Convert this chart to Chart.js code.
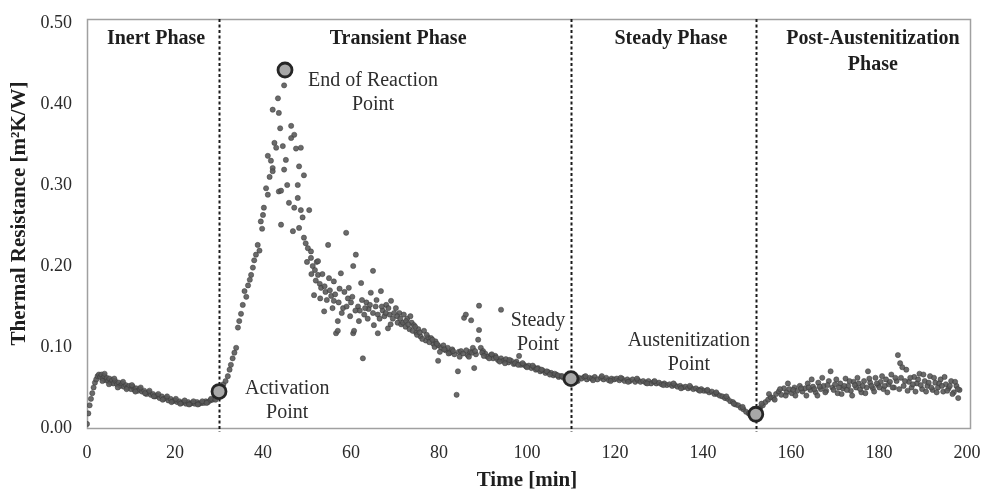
<!DOCTYPE html>
<html>
<head>
<meta charset="utf-8">
<script src="https://cdn.jsdelivr.net/npm/chart.js@4"></script>
<style>
html,body{margin:0;padding:0;background:#fff;}
canvas{display:block;}
</style>
</head>
<body>
<canvas id="c" width="984" height="494"></canvas>
<script>
// ---------- DATA ----------
const xTicks = [0, 20, 40, 60, 80, 100, 120, 140, 160, 180, 200];
const yTicks = [0.00, 0.10, 0.20, 0.30, 0.40, 0.50];

const phaseNames = [['Inert Phase'], ['Transient Phase'], ['Steady Phase'], ['Post-Austenitization', 'Phase']];
const phaseBoundaries = [30, 110, 152];

const keyPointNames = [['Activation', 'Point'], ['End of Reaction', 'Point'], ['Steady', 'Point'], ['Austenitization', 'Point']];
const keyPointTime = [30, 45, 110, 152];
const keyPointR = [0.045, 0.442, 0.061, 0.017];

// Inert phase (0-30 min) [time, resistance]
const inertPoints = [
[0,0.005],[0.3,0.018],[0.6,0.028],[0.9,0.036],[1.2,0.043],[1.5,0.05],[1.8,0.056],[2.1,0.06],[2.4,0.064],[2.7,0.066],
[3.0,0.063],[3.3,0.066],[3.6,0.061],[3.9,0.064],[4.2,0.059],[4.5,0.062],[4.8,0.058],[5.1,0.061],[5.4,0.056],[5.7,0.059],
[6.0,0.055],[6.4,0.058],[6.8,0.054],[7.2,0.056],[7.6,0.052],[8.0,0.055],[8.4,0.051],[8.8,0.053],[9.2,0.05],[9.6,0.052],
[10.0,0.048],[10.4,0.051],[10.8,0.047],[11.2,0.049],[11.6,0.046],[12.0,0.048],[12.5,0.045],[13.0,0.046],[13.5,0.042],[14.0,0.044],
[14.5,0.041],[15.0,0.042],[15.5,0.039],[16.0,0.04],[16.5,0.037],[17.0,0.039],[17.5,0.036],[18.0,0.037],[18.5,0.034],[19.0,0.036],
[19.5,0.033],[20.0,0.034],[20.5,0.032],[21.0,0.033],[21.5,0.031],[22.0,0.032],[22.5,0.03],[23.0,0.032],[23.5,0.03],[24.0,0.031],
[24.5,0.03],[25.0,0.032],[25.5,0.03],[26.0,0.031],[26.5,0.031],[27.0,0.033],[27.5,0.032],[28.0,0.034],[28.5,0.035],[29.0,0.037],
[29.5,0.04],[30.0,0.043],
[3.5,0.058],[4.0,0.067],[5.0,0.054],[6.2,0.061],[7.0,0.05],[8.2,0.057],[9.0,0.048],[10.2,0.053],[11.0,0.045],[12.2,0.05],
[13.2,0.043],[14.2,0.046],[15.2,0.039],[16.2,0.042],[17.2,0.035],[18.2,0.039],[19.2,0.032],[20.2,0.036],[21.2,0.03],[22.2,0.034],
[23.2,0.029],[24.2,0.033],[25.2,0.029],[26.2,0.033],[27.2,0.031],[28.2,0.036],[29.2,0.035]
];

// Transient phase (30-110 min)
const transientPoints = [
[30.5,0.048],[31.0,0.054],[31.5,0.058],[32.0,0.064],[32.4,0.072],[32.7,0.078],[33.1,0.086],[33.5,0.093],[33.9,0.099],[34.3,0.124],
[34.6,0.132],[35.0,0.141],[35.4,0.152],[35.8,0.169],[36.2,0.162],[36.6,0.176],[37.0,0.183],[37.3,0.189],[37.7,0.198],[38.0,0.207],
[38.4,0.214],[38.8,0.226],[39.2,0.219],[39.5,0.255],[39.8,0.246],[40.2,0.272],[40.0,0.263],[40.7,0.296],[41.1,0.288],[41.1,0.336],
[41.5,0.31],[41.8,0.33],[42.2,0.321],[42.2,0.393],[42.2,0.317],[42.6,0.352],[43.0,0.346],[43.4,0.407],[43.6,0.389],[43.6,0.292],
[43.9,0.37],[44.1,0.293],[44.1,0.251],[44.5,0.348],[44.8,0.423],[44.8,0.319],[45.2,0.331],[45.5,0.3],[45.9,0.278],[46.4,0.373],
[46.4,0.358],[46.8,0.243],[47.1,0.362],[47.1,0.272],[47.5,0.345],[47.9,0.3],[47.9,0.284],[48.2,0.323],[48.2,0.247],[48.6,0.346],
[48.6,0.269],[49.0,0.26],[49.3,0.312],[49.3,0.235],[49.7,0.228],[50.2,0.222],[50.5,0.269],[50.9,0.21],[50.9,0.218],[51.3,0.2],
[51.6,0.164],[51.8,0.195],[52.2,0.205],[52.5,0.189],[52.5,0.206],[52.9,0.178],[53.2,0.173],[53.5,0.19],[53.9,0.144],[54.2,0.168],
[54.8,0.226],[55.0,0.185],[55.5,0.163],[56.1,0.157],[56.1,0.181],[56.6,0.117],[57.0,0.132],[57.0,0.12],[57.4,0.172],[57.7,0.191],
[58.2,0.148],[58.9,0.241],[59.3,0.16],[59.5,0.173],[60.0,0.155],[60.5,0.2],[60.5,0.117],[60.7,0.12],[61.1,0.214],[61.6,0.15],
[62.0,0.145],[62.3,0.179],[62.7,0.086],[63.0,0.14],[63.5,0.155],[64.0,0.147],[64.5,0.167],[65.0,0.194],[65.2,0.127],[65.6,0.15],
[66.1,0.14],[66.1,0.117],[66.8,0.169],[67.2,0.145],[67.6,0.138],[68.0,0.152],[68.4,0.123],[68.8,0.14],[69.1,0.157],[69.5,0.135],
[70.2,0.148],[70.6,0.13],[71.0,0.142],[71.4,0.128],[72.0,0.14],[72.4,0.125],[72.8,0.135],[73.3,0.122],[73.8,0.13],[74.3,0.127],
[74.8,0.118],[75.3,0.122],[75.8,0.113],[76.6,0.12],[77.0,0.108],[77.5,0.112],[78.2,0.111],[78.7,0.104],[79.2,0.107],[79.8,0.102],
[79.8,0.083],[80.5,0.099],[81.0,0.102],[81.5,0.096],[82.0,0.099],[82.5,0.093],[83.0,0.097],[83.5,0.091],[84.0,0.041],[84.3,0.07],
[84.5,0.094],[85.0,0.095],[85.7,0.136],[86.1,0.14],[86.5,0.09],[87.0,0.094],[87.3,0.133],[87.7,0.099],[88.0,0.074],[88.4,0.091],
[88.9,0.109],[89.1,0.151],[89.1,0.121],[89.5,0.099],[90.0,0.095],[90.5,0.092],[91.0,0.088],[91.8,0.09],[92.3,0.086],[92.8,0.089],
[93.4,0.084],[94.1,0.086],[94.1,0.146],[94.6,0.083],[95.2,0.085],[95.8,0.081],[96.4,0.083],[97.0,0.079],[97.6,0.082],[98.2,0.089],
[98.6,0.078],[99.3,0.078],[99.8,0.076],[100.4,0.077],[101.0,0.074],[101.6,0.075],[102.0,0.072],[102.5,0.074],[103.0,0.07],[103.6,0.071],
[104.2,0.068],[104.8,0.069],[105.5,0.068],[106.0,0.065],[106.6,0.066],[107.2,0.063],[107.7,0.064],[108.3,0.062],[108.9,0.063],[109.5,0.061],
[50.0,0.205],[51.0,0.19],[52.0,0.182],[53.0,0.16],[54.0,0.175],[54.5,0.158],[55.2,0.17],[55.8,0.148],[56.4,0.165],[57.2,0.155],
[57.9,0.142],[58.5,0.168],[59.0,0.15],[59.8,0.138],[60.3,0.162],[61.0,0.145],[61.8,0.132],[62.5,0.158],[63.2,0.148],[63.8,0.135],
[64.3,0.152],[65.0,0.142],[65.8,0.158],[66.5,0.135],[67.0,0.15],[67.9,0.142],[68.5,0.148],[69.0,0.128],[69.8,0.142],[70.5,0.138],
[71.2,0.135],[71.8,0.13],[72.5,0.132],[73.0,0.128],[73.5,0.138],[74.0,0.12],[74.6,0.125],[75.0,0.115],[75.6,0.118],[76.2,0.11],
[77.2,0.115],[77.8,0.106],[78.5,0.109],[79.0,0.1],[79.5,0.104],[80.2,0.094],[81.2,0.097],[82.2,0.092],[83.2,0.095],[84.7,0.088],
[85.5,0.092],[86.2,0.096],[86.8,0.088],[87.5,0.093],[88.2,0.095],[89.8,0.093],[90.2,0.089],[91.4,0.086],[92.0,0.091],[93.0,0.087],
[93.8,0.082],[95.0,0.08],[96.0,0.084],[97.3,0.08],[98.0,0.078],[99.0,0.08],[100.0,0.075],[101.3,0.077],[102.3,0.073],[103.3,0.072],
[104.5,0.07],[105.2,0.066],[106.3,0.067],[107.0,0.065],[108.0,0.064],[109.0,0.06]
];

// Steady phase (110-152 min)
const steadyPoints = [
[110.0,0.06],[110.6,0.062],[111.2,0.06],[111.8,0.062],[112.4,0.061],[113.0,0.063],[113.6,0.06],[114.2,0.062],[114.8,0.061],[115.4,0.063],
[116.0,0.06],[116.8,0.062],[117.4,0.06],[118.0,0.062],[118.6,0.059],[119.2,0.061],[119.8,0.06],[120.4,0.061],[121.0,0.059],[121.6,0.061],
[122.2,0.058],[122.8,0.06],[123.4,0.058],[124.0,0.06],[124.6,0.057],[125.2,0.059],[125.8,0.057],[126.4,0.058],[127.0,0.056],[127.6,0.058],
[128.2,0.055],[128.8,0.057],[129.4,0.055],[130.0,0.056],[130.6,0.054],[131.2,0.055],[131.8,0.053],[132.4,0.054],[133.0,0.052],[133.6,0.053],
[134.2,0.051],[134.8,0.052],[135.4,0.05],[136.0,0.051],[136.6,0.049],[137.2,0.05],[137.8,0.048],[138.4,0.049],[139.0,0.047],[139.6,0.048],
[140.2,0.046],[140.8,0.046],[141.4,0.044],[142.0,0.045],[142.6,0.042],[143.2,0.042],[143.8,0.04],[144.4,0.039],[145.0,0.037],[145.6,0.036],
[146.2,0.033],[146.8,0.032],[147.4,0.029],[148.0,0.028],[148.6,0.025],[149.2,0.023],[149.8,0.02],[150.4,0.018],[151.0,0.016],[151.6,0.015],
[111.5,0.058],[113.3,0.064],[115.0,0.059],[117.0,0.064],[119.0,0.058],[121.3,0.062],[123.0,0.057],[125.0,0.061],[127.3,0.055],[129.0,0.058],
[131.0,0.053],[133.3,0.055],[135.0,0.049],[137.0,0.052],[139.3,0.046],[141.0,0.047],[143.0,0.044],[145.3,0.039],[147.0,0.03],[149.0,0.026]
];

// Post-austenitization phase (152-200 min)
const postPoints = [
[152.4,0.02],[153.0,0.025],[153.6,0.028],[154.2,0.032],[154.8,0.035],[155.4,0.038],[156.0,0.037],[156.6,0.042],[157.2,0.045],[157.8,0.041],
[158.4,0.049],[159.0,0.044],[159.6,0.048],[160.2,0.043],[160.8,0.05],[161.4,0.046],[162.0,0.052],[162.6,0.045],[163.2,0.049],[163.8,0.055],
[164.4,0.047],[165.0,0.051],[165.6,0.044],[166.2,0.056],[166.8,0.048],[167.4,0.052],[168.0,0.046],[168.6,0.058],[169.0,0.07],[169.4,0.05],
[170.0,0.054],[170.6,0.043],[171.2,0.055],[171.8,0.049],[172.4,0.061],[173.0,0.052],[173.6,0.046],[174.2,0.057],[174.8,0.05],[175.4,0.055],
[176.0,0.044],[176.6,0.058],[177.2,0.05],[177.5,0.07],[178.0,0.056],[178.6,0.049],[179.2,0.062],[179.8,0.053],[180.4,0.057],[181.0,0.048],
[181.6,0.06],[182.2,0.054],[182.8,0.066],[183.4,0.05],[184.0,0.058],[184.3,0.09],[184.8,0.08],[185.0,0.062],[185.6,0.052],[186.2,0.072],
[186.8,0.057],[187.4,0.05],[188.0,0.063],[188.6,0.055],[189.2,0.067],[189.8,0.048],[190.4,0.058],[191.0,0.052],[191.6,0.064],[192.2,0.047],
[192.8,0.056],[193.4,0.05],[194.0,0.06],[194.6,0.045],[195.2,0.054],[195.8,0.049],[196.4,0.058],[197.0,0.044],[197.6,0.052],[198.0,0.037],
[198.3,0.047],
[153.3,0.03],[155.0,0.042],[156.3,0.035],[157.5,0.048],[158.8,0.04],[159.3,0.055],[160.5,0.047],[161.0,0.04],[162.3,0.049],[163.5,0.04],
[164.0,0.05],[164.7,0.06],[165.3,0.048],[166.0,0.04],[166.5,0.051],[167.1,0.062],[167.8,0.044],[168.3,0.053],[169.7,0.047],[170.3,0.06],
[170.9,0.05],[171.5,0.042],[172.1,0.052],[172.7,0.047],[173.3,0.058],[173.9,0.04],[174.5,0.053],[175.1,0.062],[175.7,0.048],[176.3,0.052],
[176.9,0.043],[177.8,0.061],[178.3,0.052],[178.9,0.045],[179.5,0.055],[180.1,0.05],[180.7,0.064],[181.3,0.052],[181.9,0.044],[182.5,0.057],
[183.1,0.05],[183.7,0.062],[184.6,0.048],[185.3,0.075],[185.9,0.058],[186.5,0.046],[187.1,0.062],[187.7,0.054],[188.3,0.045],[188.9,0.06],
[189.5,0.053],[190.1,0.066],[190.7,0.045],[191.3,0.056],[191.9,0.05],[192.5,0.062],[193.1,0.044],[193.7,0.055],[194.3,0.052],[194.9,0.063],
[195.5,0.046],[196.1,0.052],[196.7,0.042],[197.3,0.057],[197.9,0.048]
];

// ---------- CHART ----------
const SERIF = '"Liberation Serif", "Times New Roman", serif';
const toXY = arr => arr.map(p => ({x: p[0], y: p[1]}));
const measured = [].concat(toXY(inertPoints), toXY(transientPoints), toXY(steadyPoints), toXY(postPoints));
const keyPts = keyPointTime.map((t, i) => ({x: t, y: keyPointR[i]}));

const decor = {
  id: 'decor',
  beforeDatasetsDraw(chart) {
    const {ctx, chartArea: a, scales: {x, y}} = chart;
    ctx.save();
    // plot border box
    ctx.strokeStyle = '#a0a0a0';
    ctx.lineWidth = 1.5;
    ctx.strokeRect(a.left + 0.5, a.top - 4 + 0.5, a.right - a.left + 3, a.bottom - a.top + 4);
    // phase boundaries
    ctx.strokeStyle = '#1a1a1a';
    ctx.lineWidth = 2;
    ctx.setLineDash([3, 2.5]);
    phaseBoundaries.forEach(b => {
      const px = Math.round(x.getPixelForValue(b)) + 0.5;
      ctx.beginPath();
      ctx.moveTo(px, a.top - 4);
      ctx.lineTo(px, a.bottom + 4);
      ctx.stroke();
    });
    ctx.restore();
  },
  afterDraw(chart) {
    const {ctx, chartArea: a, scales: {x, y}} = chart;
    ctx.save();
    ctx.textAlign = 'center';
    ctx.textBaseline = 'middle';
    // phase labels
    const phaseLabelX = [15.7, 70.7, 132.7, 178.6];
    ctx.fillStyle = '#1e1e1e';
    ctx.font = 'bold 20px ' + SERIF;
    phaseNames.forEach((lines, i) => {
      lines.forEach((t, j) => ctx.fillText(t, x.getPixelForValue(phaseLabelX[i]), y.getPixelForValue(0.48) + j * 26));
    });
    // key point annotations
    const annX = [45.5, 65, 102.5, 136.8];
    const annY = [0.049, 0.429, 0.133, 0.108];
    ctx.fillStyle = '#2e2e2e';
    ctx.font = '20px ' + SERIF;
    keyPointNames.forEach((lines, i) => {
      lines.forEach((t, j) => ctx.fillText(t, x.getPixelForValue(annX[i]), y.getPixelForValue(annY[i]) + j * 24));
    });
    // axis titles
    ctx.fillStyle = '#1e1e1e';
    ctx.font = 'bold 21px ' + SERIF;
    ctx.fillText('Time [min]', x.getPixelForValue(100), 481);
    ctx.translate(20, (a.top + a.bottom) / 2 - 12);
    ctx.rotate(-Math.PI / 2);
    ctx.fillText('Thermal Resistance [m\u00B2K/W]', 0, 0);
    ctx.restore();
  }
};

new Chart(document.getElementById('c'), {
  type: 'scatter',
  data: {
    datasets: [
      {
        label: 'Thermal resistance',
        data: measured,
        pointRadius: 2.6,
        pointBorderWidth: 0.7,
        pointBackgroundColor: 'rgba(90,90,90,0.9)',
        pointBorderColor: 'rgba(55,55,55,0.7)',
        order: 2
      },
      {
        label: 'Key points',
        data: keyPts,
        pointRadius: 7,
        pointBorderWidth: 2.8,
        pointBackgroundColor: '#a8a8a8',
        pointBorderColor: '#262626',
        order: 1
      }
    ]
  },
  options: {
    responsive: false,
    animation: false,
    devicePixelRatio: 1,
    layout: {padding: {top: 23, right: 17, left: 0, bottom: 0}},
    plugins: {legend: {display: false}, tooltip: {enabled: false}},
    scales: {
      x: {
        type: 'linear', min: xTicks[0], max: xTicks[xTicks.length - 1],
        afterBuildTicks: s => { s.ticks = xTicks.map(v => ({value: v})); },
        ticks: {padding: 14, maxRotation: 0, color: '#2a2a2a', font: {family: SERIF, size: 18}, callback: v => String(v)},
        grid: {display: false, drawTicks: false},
        border: {display: false},
        afterFit: s => { s.height = 66; s.paddingLeft = 0; s.paddingRight = 0; }
      },
      y: {
        min: yTicks[0], max: yTicks[yTicks.length - 1],
        afterBuildTicks: s => { s.ticks = yTicks.map(v => ({value: v})); },
        ticks: {padding: 15, color: '#2a2a2a', font: {family: SERIF, size: 18}, callback: v => Number(v).toFixed(2)},
        grid: {display: false, drawTicks: false},
        border: {display: false},
        afterFit: s => { s.width = 87; s.paddingTop = 0; s.paddingBottom = 0; }
      }
    }
  },
  plugins: [decor]
});
</script>
</body>
</html>
